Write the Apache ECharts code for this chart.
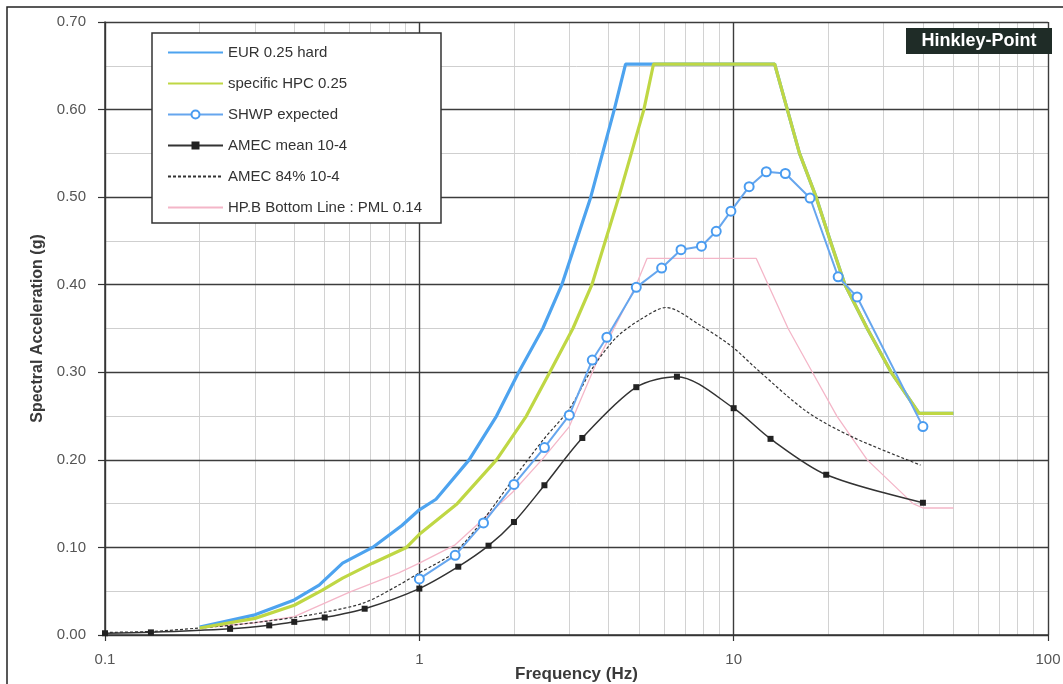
<!DOCTYPE html>
<html><head><meta charset="utf-8">
<script src="https://cdn.jsdelivr.net/npm/echarts@6/dist/echarts.min.js"></script>
<style>html,body{margin:0;padding:0;background:#fff}#c{width:1063px;height:684px}</style>
</head><body><div id="c"></div>
<script>
// ---- data (frequency in Hz, spectral acceleration in g) ----
const eurFreq = [0.2, 0.3, 0.4, 0.48, 0.57, 0.71, 0.88, 1.0, 1.13, 1.44, 1.76, 2.07, 2.47, 2.84, 3.51, 4.17, 4.53, 13.5, 16.2, 18.3, 20.3, 22.6, 26.6, 31.7, 38.9, 50];
const eurVal  = [0.009, 0.023, 0.040, 0.057, 0.082, 0.100, 0.125, 0.143, 0.155, 0.200, 0.250, 0.300, 0.350, 0.400, 0.500, 0.600, 0.652, 0.652, 0.550, 0.500, 0.450, 0.400, 0.350, 0.300, 0.253, 0.253];

const hpcFreq = [0.2, 0.3, 0.4, 0.49, 0.57, 0.71, 0.91, 1.0, 1.32, 1.76, 2.19, 2.6, 3.08, 3.54, 4.31, 5.18, 5.56, 13.5, 16.2, 18.3, 20.3, 22.6, 26.6, 31.7, 38.9, 50];
const hpcVal  = [0.008, 0.019, 0.034, 0.051, 0.065, 0.082, 0.100, 0.115, 0.150, 0.200, 0.250, 0.300, 0.350, 0.400, 0.500, 0.600, 0.652, 0.652, 0.550, 0.500, 0.450, 0.400, 0.350, 0.300, 0.253, 0.253];

const shwpFreq = [1.0, 1.3, 1.6, 2.0, 2.5, 3.0, 3.55, 3.95, 4.9, 5.9, 6.8, 7.9, 8.8, 9.8, 11.2, 12.7, 14.6, 17.5, 21.5, 24.7, 40];
const shwpVal  = [0.064, 0.091, 0.128, 0.172, 0.214, 0.251, 0.314, 0.340, 0.397, 0.419, 0.440, 0.444, 0.461, 0.484, 0.512, 0.529, 0.527, 0.499, 0.409, 0.386, 0.238];

const amecMeanFreq = [0.1, 0.14, 0.25, 0.333, 0.4, 0.5, 0.67, 1.0, 1.33, 1.66, 2.0, 2.5, 3.3, 4.9, 6.6, 10, 13.1, 19.7, 40];
const amecMeanVal  = [0.002, 0.003, 0.007, 0.011, 0.015, 0.020, 0.030, 0.053, 0.078, 0.102, 0.129, 0.171, 0.225, 0.283, 0.295, 0.259, 0.224, 0.183, 0.151];

const amec84Freq = [0.1, 0.14, 0.2, 0.25, 0.33, 0.4, 0.5, 0.67, 0.86, 1.0, 1.3, 1.6, 1.98, 2.48, 3.0, 3.56, 4.24, 5.04, 6.1, 7.8, 9.9, 11.9, 17.1, 23.9, 39.3];
const amec84Val  = [0.003, 0.004, 0.008, 0.011, 0.016, 0.020, 0.026, 0.037, 0.057, 0.071, 0.095, 0.132, 0.177, 0.223, 0.258, 0.305, 0.340, 0.360, 0.374, 0.354, 0.329, 0.303, 0.255, 0.226, 0.194];

const pmlFreq = [0.2, 0.3, 0.4, 0.49, 0.6, 0.86, 1.0, 1.3, 1.98, 2.48, 3.0, 3.66, 4.3, 4.9, 5.3, 11.8, 14.9, 17.8, 21.3, 26.6, 37.2, 40, 50];
const pmlVal  = [0.008, 0.014, 0.021, 0.035, 0.049, 0.071, 0.082, 0.103, 0.163, 0.202, 0.238, 0.311, 0.360, 0.400, 0.430, 0.430, 0.350, 0.300, 0.250, 0.200, 0.150, 0.145, 0.145];

const seriesNames = ['EUR 0.25 hard', 'specific HPC 0.25', 'SHWP expected', 'AMEC mean 10-4', 'AMEC 84% 10-4', 'HP.B Bottom Line : PML 0.14'];
const minorFreqTicks = [0.2, 0.3, 0.4, 0.5, 0.6, 0.7, 0.8, 0.9, 2, 3, 4, 5, 6, 7, 8, 9, 20, 30, 40, 50, 60, 70, 80, 90];
const siteLabel = 'Hinkley-Point';
const xTitle = 'Frequency (Hz)';
const yTitle = 'Spectral Acceleration (g)';

const zip = (a, b) => a.map((v, i) => [v, b[i]]);
const FONT = '"Liberation Sans", Arial, sans-serif';

const chart = echarts.init(document.getElementById('c'), null, { renderer: 'canvas' });
chart.setOption({
  animation: false,
  backgroundColor: '#fff',
  grid: { left: 105, right: 15, top: 22, bottom: 49, containLabel: false, outerBoundsMode: 'none' },
  xAxis: {
    type: 'log', logBase: 10, min: 0.1, max: 100, z: 1,
    name: xTitle, nameLocation: 'middle', nameGap: 31, nameMoveOverlap: false,
    nameTextStyle: { fontFamily: FONT, fontSize: 17, fontWeight: 'bold', color: '#3a3a3a' },
    axisLine: { show: true, lineStyle: { color: '#333', width: 1.5 } },
    axisTick: { show: true, length: 6, lineStyle: { color: '#333', width: 1.2 } },
    axisLabel: { fontFamily: FONT, fontSize: 15, color: '#555', margin: 17,
      formatter: v => String(v) },
    splitLine: { show: true, lineStyle: { color: '#3c3c3c', width: 1.4 } }
  },
  yAxis: {
    type: 'value', min: 0, max: 0.7, interval: 0.1, z: 1,
    name: yTitle, nameLocation: 'middle', nameGap: 51,
    nameTextStyle: { fontFamily: FONT, fontSize: 16, fontWeight: 'bold', color: '#3a3a3a' },
    axisLine: { show: true, lineStyle: { color: '#333', width: 1.5 } },
    axisTick: { show: true, length: 7, lineStyle: { color: '#333', width: 1.2 } },
    axisLabel: { fontFamily: FONT, fontSize: 15, color: '#555', margin: 19,
      formatter: v => v.toFixed(2) },
    splitLine: { show: true, lineStyle: { color: '#3c3c3c', width: 1.4 } },
    minorTick: { show: false, splitNumber: 2 },
    minorSplitLine: { show: true, lineStyle: { color: '#cfcfcf', width: 1 } }
  },
  legend: {
    orient: 'vertical', left: 152, top: 33,
    padding: [12, 19, 8, 15],
    itemGap: 16, itemWidth: 55, itemHeight: 10,
    backgroundColor: '#fff', borderColor: '#333', borderWidth: 1.5, borderRadius: 0,
    textStyle: { fontFamily: FONT, fontSize: 15, color: '#333' },
    data: [
      { name: seriesNames[0], itemStyle: { opacity: 0 } },
      { name: seriesNames[1], itemStyle: { opacity: 0 } },
      { name: seriesNames[2] },
      { name: seriesNames[3] },
      { name: seriesNames[4], itemStyle: { opacity: 0 } },
      { name: seriesNames[5], itemStyle: { opacity: 0 } }
    ]
  },
  series: [
    {
      name: 'minor-grid', type: 'line', data: [], z: 0, silent: true,
      markLine: {
        silent: true, symbol: 'none', z: 0, animation: false,
        label: { show: false },
        lineStyle: { color: '#d2d2d2', width: 1, type: 'solid' },
        emphasis: { disabled: true },
        data: minorFreqTicks.map(v => ({ xAxis: v }))
      }
    },
    {
      name: seriesNames[5], type: 'line', data: zip(pmlFreq, pmlVal),
      symbol: 'none', lineStyle: { color: '#f4b6c8', width: 1.3 }, itemStyle: { color: '#f4b6c8' }, z: 2
    },
    {
      name: seriesNames[4], type: 'line', data: zip(amec84Freq, amec84Val), smooth: 0.3,
      symbol: 'none', lineStyle: { color: '#333', width: 1.2, type: [3, 2] }, itemStyle: { color: '#333' }, z: 3
    },
    {
      name: seriesNames[3], type: 'line', data: zip(amecMeanFreq, amecMeanVal), smooth: 0.3,
      symbol: 'rect', symbolSize: 6, showAllSymbol: true,
      lineStyle: { color: '#333', width: 1.5 }, itemStyle: { color: '#222' }, z: 4
    },
    {
      name: seriesNames[0], type: 'line', data: zip(eurFreq, eurVal),
      symbol: 'none', lineStyle: { color: '#4da3ef', width: 3.2 }, itemStyle: { color: '#4da3ef' }, z: 5
    },
    {
      name: seriesNames[1], type: 'line', data: zip(hpcFreq, hpcVal),
      symbol: 'none', lineStyle: { color: '#bfd744', width: 3.2 }, itemStyle: { color: '#bfd744' }, z: 6
    },
    {
      name: seriesNames[2], type: 'line', data: zip(shwpFreq, shwpVal),
      symbol: 'emptyCircle', symbolSize: 9, showAllSymbol: true,
      lineStyle: { color: '#66a6ee', width: 2 }, itemStyle: { color: '#4a9cf0', borderWidth: 1.8 }, z: 7
    }
  ],
  graphic: [
    { type: 'rect', z: 100, silent: true, shape: { x: 7, y: 7, width: 1100, height: 700 },
      style: { fill: 'none', stroke: '#222', lineWidth: 1.5 } },
    { type: 'rect', z: 100, silent: true, shape: { x: 906, y: 28, width: 146, height: 26 },
      style: { fill: '#1f2c27' } },
    { type: 'text', z: 101, silent: true, x: 979, y: 41,
      style: { text: siteLabel, fill: '#fff', font: 'bold 18px ' + FONT, textAlign: 'center', textVerticalAlign: 'middle' } }
  ]
});
</script>
</body></html>
